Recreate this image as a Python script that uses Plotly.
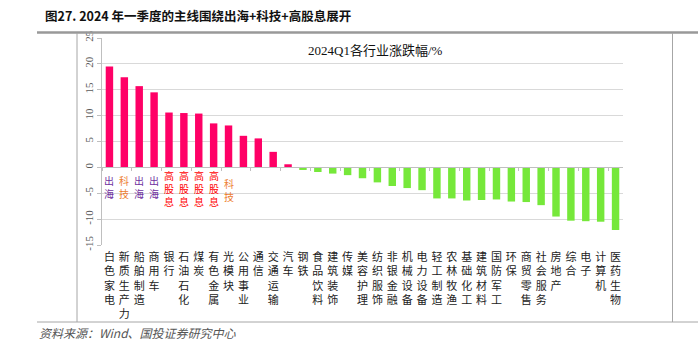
import plotly.graph_objects as go

categories = ["白色家电", "新质生产力", "船舶制造", "商用车", "银行", "石油石化", "煤炭", "有色金属",
              "光模块", "公用事业", "通信", "交通运输", "汽车", "钢铁", "食品饮料", "建筑装饰",
              "传媒", "美容护理", "纺织服饰", "非银金融", "机械设备", "电力设备", "轻工制造",
              "农林牧渔", "基础化工", "建筑材料", "国防军工", "环保", "商贸零售", "社会服务",
              "房地产", "综合", "电子", "计算机", "医药生物"]
values = [19.5, 17.4, 15.7, 14.5, 10.6, 10.5, 10.4, 8.5, 8.1, 6.1, 5.6, 3.0, 0.6,
          -0.5, -0.9, -1.2, -1.5, -2.1, -2.9, -3.6, -4.0, -4.4, -6.0, -6.0, -6.4,
          -6.3, -6.2, -6.6, -6.7, -7.3, -9.5, -10.3, -10.4, -10.5, -12.1]
y_ticks = [-15, -10, -5, 0, 5, 10, 15, 20, 25]

# theme tags under the positive bars: (category index, text, colour, y of tag centre)
tag_idx = [0, 1, 2, 3, 4, 5, 6, 7, 8]
tag_text = ["出海", "科技", "出海", "出海", "高股息", "高股息", "高股息", "高股息", "科技"]
tag_color = ["#7030A0", "#ED7D31", "#7030A0", "#7030A0", "#FF0000", "#FF0000", "#FF0000", "#FF0000", "#ED7D31"]
tag_y = [-3.8, -3.7, -3.8, -3.8, -4.0, -4.0, -4.0, -4.0, -4.4]

chart_title = "2024Q1各行业涨跌幅/%"
header = "图27. 2024 年一季度的主线围绕出海+科技+高股息展开"
source = "资料来源：Wind、国投证券研究中心"

W, H = 698, 349
L, R, T, B = 102, 623, 38, 245


def px(x):
    return (x - L) / (R - L)


def py(y):
    return (B - y) / (B - T)


bar_colors = ["#FF0066" if v >= 0 else "#76E83A" for v in values]
n = len(categories)

fig = go.Figure()
fig.add_trace(go.Bar(x=categories, y=values, marker=dict(color=bar_colors, line_width=0),
                     xaxis="x", yaxis="y", showlegend=False, hoverinfo="x+y"))

annotations = []
for i, t, c, yy in zip(tag_idx, tag_text, tag_color, tag_y):
    annotations.append(dict(x=categories[i], y=yy, xref="x", yref="y", text="<br>".join(list(t)),
                            showarrow=False, font=dict(family="Noto Sans CJK SC", size=10, color=c),
                            xanchor="center", yanchor="middle"))

annotations.append(dict(x=px(375), y=py(50), xref="paper", yref="paper", text=chart_title, showarrow=False,
                        font=dict(family="Liberation Serif, Noto Sans CJK SC", size=13, color="#111"),
                        xanchor="center", yanchor="middle"))
annotations.append(dict(x=px(198), y=py(16), xref="paper", yref="paper", text=header,
                        showarrow=False,
                        font=dict(family="Noto Sans CJK SC", size=12.5, color="#111", weight="bold"),
                        xanchor="center", yanchor="middle"))
annotations.append(dict(x=px(37), y=py(332), xref="paper", yref="paper", text=source, showarrow=False,
                        font=dict(family="Noto Sans CJK SC", size=12, color="#555", style="italic"),
                        xanchor="left", yanchor="middle"))

line_c = "#A6A6A6"
shapes = [
    dict(type="line", xref="paper", yref="paper", x0=px(37), x1=px(698), y0=py(32.5), y1=py(32.5),
         line=dict(color="#999999", width=2.5)),
    dict(type="line", xref="paper", yref="paper", x0=px(37), x1=px(698), y0=py(322), y1=py(322),
         line=dict(color=line_c, width=1)),
    dict(type="line", xref="paper", yref="paper", x0=px(77), x1=px(77), y0=py(33), y1=py(322),
         line=dict(color=line_c, width=1)),
    dict(type="line", xref="paper", yref="paper", x0=px(672.5), x1=px(672.5), y0=py(33), y1=py(322),
         line=dict(color=line_c, width=1)),
]

ymin, ymax = -15, 25
fig.update_layout(
    width=W, height=H,
    margin=dict(l=L, r=W - R, t=T, b=H - B),
    paper_bgcolor="white", plot_bgcolor="white",
    bargap=0.5,
    annotations=annotations, shapes=shapes,
    xaxis=dict(type="category", categoryorder="array", categoryarray=categories,
               anchor="free", position=(0 - ymin) / (ymax - ymin),
               showline=True, linecolor="#BFBFBF", linewidth=1,
               ticks="outside", tickson="boundaries", ticklen=3, tickcolor="#BFBFBF",
               showticklabels=False, showgrid=False, range=[-0.5, n - 0.5]),
    xaxis2=dict(overlaying="x", anchor="y", side="bottom", range=[-0.5, n - 0.5],
                tickmode="array", tickvals=list(range(n)),
                ticktext=["<br>".join(list(c)) for c in categories],
                showline=False, showgrid=False, ticks="", zeroline=False, ticklabelstandoff=4,
                tickfont=dict(family="Noto Sans CJK SC", size=11, color="#222")),
    yaxis=dict(range=[ymin, ymax], tickmode="array", tickvals=y_ticks, ticktext=[str(v) for v in y_ticks],
               showgrid=True, gridcolor="#D9D9D9", gridwidth=1, zeroline=False,
               showline=True, linecolor="#BFBFBF", ticks="outside", ticklen=4, tickcolor="#BFBFBF",
               tickangle=-90, tickfont=dict(family="Liberation Serif", size=11, color="#595959")),
)
# invisible helper trace so the label axis is drawn
fig.add_trace(go.Scatter(x=[0], y=[0], xaxis="x2", yaxis="y", mode="markers",
                         marker=dict(opacity=0), showlegend=False, hoverinfo="skip"))

fig.write_html("out.html")
